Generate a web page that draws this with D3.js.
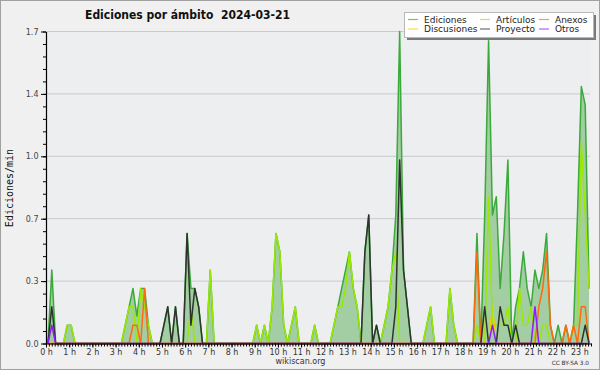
<!DOCTYPE html>
<html>
<head>
<meta charset="utf-8">
<script src="https://cdn.jsdelivr.net/npm/d3@7/dist/d3.min.js"></script>
<style>
	body { margin: 0; background: #f0f0f0; }
	svg { display: block; font-family: "DejaVu Sans", sans-serif; }
</style>
</head>
<body>
<div id="chart"></div>
<script>
// edits per minute, one value per 10 min slot (xx:05, xx:15 ...), one row per hour
var ediciones = [
	0, 0.4, 0, 0, 0, 0.1,
	0.1, 0, 0, 0, 0, 0,
	0, 0, 0, 0, 0, 0,
	0, 0, 0.1, 0.2, 0.3, 0.15,
	0.3, 0.3, 0.1, 0, 0, 0,
	0.1, 0.2, 0, 0.2, 0, 0,
	0.6, 0.3, 0.3, 0.2, 0, 0,
	0.4, 0, 0, 0, 0, 0,
	0, 0, 0, 0, 0, 0,
	0.1, 0, 0.1, 0, 0.2, 0.6,
	0.5, 0.1, 0, 0.1, 0.2, 0,
	0, 0, 0, 0.1, 0, 0,
	0, 0, 0.1, 0.2, 0.3, 0.4,
	0.5, 0.3, 0.2, 0, 0.5, 0.7,
	0, 0.1, 0, 0.1, 0.2, 0.4,
	0.7, 1.7, 0.4, 0.2, 0, 0,
	0, 0, 0.1, 0.2, 0, 0,
	0, 0, 0.3, 0.1, 0, 0,
	0, 0, 0, 0.6, 0, 0.7,
	1.65, 0.7, 0.8, 0.3, 0.6, 1.0,
	0, 0.2, 0.3, 0.5, 0.3, 0.2,
	0.4, 0.3, 0.4, 0.6, 0.1, 0,
	0.1, 0, 0.1, 0, 0.1, 0.7,
	1.4, 1.3, 0.3
];

var articulos = [
	0, 0.1, 0, 0, 0, 0.1,
	0.1, 0, 0, 0, 0, 0,
	0, 0, 0, 0, 0, 0,
	0, 0, 0.1, 0.2, 0.2, 0,
	0.3, 0.2, 0.1, 0, 0, 0,
	0, 0, 0, 0, 0, 0,
	0, 0.2, 0, 0, 0, 0,
	0.4, 0, 0, 0, 0, 0,
	0, 0, 0, 0, 0, 0,
	0.1, 0, 0.1, 0, 0.2, 0.6,
	0.5, 0.1, 0, 0.1, 0.2, 0,
	0, 0, 0, 0.1, 0, 0,
	0, 0, 0.1, 0.2, 0.2, 0.3,
	0.5, 0.3, 0.2, 0, 0, 0,
	0, 0, 0, 0.1, 0.2, 0.4,
	0.5, 0, 0, 0, 0, 0,
	0, 0, 0.1, 0.2, 0, 0,
	0, 0, 0.3, 0.1, 0, 0,
	0, 0, 0, 0.1, 0, 0,
	0.8, 0.1, 0.1, 0.1, 0.1, 0.2,
	0, 0, 0.3, 0.1, 0.1, 0.2,
	0, 0, 0.1, 0.1, 0, 0,
	0, 0, 0, 0, 0.1, 0.1,
	1.1, 0.7, 0.3
];

var anexos = [
	0, 0, 0, 0, 0, 0,
	0, 0, 0, 0, 0, 0,
	0, 0, 0, 0, 0, 0,
	0, 0, 0, 0, 0.1, 0.1,
	0, 0.3, 0, 0, 0, 0,
	0, 0, 0, 0, 0, 0,
	0, 0, 0, 0, 0, 0,
	0, 0, 0, 0, 0, 0,
	0, 0, 0, 0, 0, 0,
	0, 0, 0, 0, 0, 0,
	0, 0, 0, 0, 0, 0,
	0, 0, 0, 0, 0, 0,
	0, 0, 0, 0, 0, 0,
	0, 0, 0, 0, 0, 0,
	0, 0, 0, 0, 0, 0,
	0, 0, 0, 0, 0, 0,
	0, 0, 0, 0, 0, 0,
	0, 0, 0, 0, 0, 0,
	0, 0, 0, 0.5, 0, 0,
	0, 0, 0, 0, 0, 0,
	0, 0, 0, 0, 0, 0,
	0, 0.2, 0.3, 0.5, 0.1, 0,
	0, 0, 0.1, 0, 0.1, 0,
	0.2, 0.2, 0
];

var discusiones = [
	0, 0, 0, 0, 0, 0,
	0, 0, 0, 0, 0, 0,
	0, 0, 0, 0, 0, 0,
	0, 0, 0, 0, 0, 0,
	0, 0, 0, 0, 0, 0,
	0, 0, 0, 0, 0, 0,
	0, 0, 0, 0, 0, 0,
	0, 0, 0, 0, 0, 0,
	0, 0, 0, 0, 0, 0,
	0, 0, 0, 0, 0, 0,
	0, 0, 0, 0, 0, 0,
	0, 0, 0, 0, 0, 0,
	0, 0, 0, 0, 0, 0,
	0, 0, 0, 0, 0, 0,
	0, 0, 0, 0, 0, 0,
	0, 0, 0, 0, 0, 0,
	0, 0, 0, 0, 0, 0,
	0, 0, 0, 0, 0, 0,
	0, 0, 0, 0, 0, 0,
	0, 0.2, 0, 0, 0, 0,
	0, 0, 0, 0, 0, 0,
	0, 0, 0, 0, 0, 0,
	0, 0, 0, 0, 0, 0,
	0, 0, 0
];

var proyecto = [
	0, 0.2, 0, 0, 0, 0,
	0, 0, 0, 0, 0, 0,
	0, 0, 0, 0, 0, 0,
	0, 0, 0, 0, 0, 0,
	0, 0, 0, 0, 0, 0,
	0.1, 0.2, 0, 0.2, 0, 0,
	0.6, 0.1, 0.3, 0.2, 0, 0,
	0, 0, 0, 0, 0, 0,
	0, 0, 0, 0, 0, 0,
	0, 0, 0, 0, 0, 0,
	0, 0, 0, 0, 0, 0,
	0, 0, 0, 0, 0, 0,
	0, 0, 0, 0, 0, 0,
	0, 0, 0, 0, 0.5, 0.7,
	0, 0.1, 0, 0, 0, 0,
	0.2, 1.0, 0.4, 0.2, 0, 0,
	0, 0, 0, 0, 0, 0,
	0, 0, 0, 0, 0, 0,
	0, 0, 0, 0, 0, 0.2,
	0, 0, 0, 0.2, 0.1, 0.1,
	0, 0.1, 0, 0, 0, 0,
	0, 0, 0, 0, 0, 0,
	0, 0, 0, 0, 0, 0,
	0, 0.1, 0
];

var otros = [
	0, 0.1, 0, 0, 0, 0,
	0, 0, 0, 0, 0, 0,
	0, 0, 0, 0, 0, 0,
	0, 0, 0, 0, 0, 0,
	0, 0, 0, 0, 0, 0,
	0, 0, 0, 0, 0, 0,
	0, 0, 0, 0, 0, 0,
	0, 0, 0, 0, 0, 0,
	0, 0, 0, 0, 0, 0,
	0, 0, 0, 0, 0, 0,
	0, 0, 0, 0, 0, 0,
	0, 0, 0, 0, 0, 0,
	0, 0, 0, 0, 0, 0,
	0, 0, 0, 0, 0, 0,
	0, 0, 0, 0, 0, 0,
	0, 0, 0, 0, 0, 0,
	0, 0, 0, 0, 0, 0,
	0, 0, 0, 0, 0, 0,
	0, 0, 0, 0, 0, 0,
	0, 0.1, 0, 0, 0, 0,
	0, 0, 0, 0, 0, 0,
	0.2, 0, 0, 0, 0, 0,
	0, 0, 0, 0, 0, 0,
	0, 0, 0
];

var hourTicks = [0, 1, 2, 3, 4, 5, 6, 7, 8, 9, 10, 11, 12, 13, 14, 15, 16, 17, 18, 19, 20, 21, 22, 23];
var yMax = 1.7;
var yTickLabels = ["0.0", "0.3", "0.7", "1.0", "1.4", "1.7"];

var seriesNames = ["Ediciones", "Artículos", "Anexos", "Discusiones", "Proyecto", "Otros"];
var seriesColors = ["#3aaa3a", "#9be800", "#ff6a10", "#ffc800", "#2e332e", "#8a1cff"];

var dimensions = {
	width: 600,
	height: 370,
	margin: { top: 31.5, right: 9, bottom: 26.5, left: 46 }
};
var plotBottom = dimensions.height - dimensions.margin.bottom;
var plotRight = dimensions.width - dimensions.margin.right;

var svg = d3.select("#chart")
	.append("svg")
	.attr("width", dimensions.width)
	.attr("height", dimensions.height);

// outer frame
svg.append("rect")
	.attr("x", 0.5).attr("y", 0.5)
	.attr("width", dimensions.width - 1).attr("height", dimensions.height - 1)
	.attr("fill", "#f0f0f0")
	.attr("stroke", "#a0a0a0");

// slot i is centred at i*10+5 minutes
var slotHours = ediciones.map((d, i) => (i * 10 + 5) / 60);

var xScale = d3.scaleLinear()
	.domain([0, 23.5])
	.range([dimensions.margin.left, plotRight]);

var yScale = d3.scaleLinear()
	.domain([0, yMax])
	.range([plotBottom, dimensions.margin.top]);

var yTicks = yTickLabels.map((d, i) => i * yMax / 5);
var yMinor = d3.range(0, 26).map(i => i * yMax / 25);
var xMinor = d3.range(0, 23.5 * 8 + 1).map(i => i / 8);

// plot background
svg.append("rect")
	.attr("x", xScale(0))
	.attr("y", yScale(yMax))
	.attr("width", xScale(23.5) - xScale(0) - 1)
	.attr("height", yScale(0) - yScale(yMax))
	.attr("fill", "#edeef0");

// grid
svg.append("g")
	.selectAll("line")
	.data(yTicks.slice(1))
	.enter()
	.append("line")
	.attr("x1", xScale(0))
	.attr("x2", xScale(23.5) - 1)
	.attr("y1", d => yScale(d))
	.attr("y2", d => yScale(d))
	.attr("stroke", "#c9cacc")
	.attr("stroke-width", 1);

var allSeries = [ediciones, articulos, anexos, discusiones, proyecto, otros];

var area = d3.area()
	.x((d, i) => xScale(slotHours[i]))
	.y0(yScale(0))
	.y1(d => yScale(d));

var line = d3.line()
	.x((d, i) => xScale(slotHours[i]))
	.y(d => yScale(d));

svg.append("path")
	.attr("d", area(ediciones))
	.attr("fill", "#9ccb9c")
	.attr("fill-opacity", 0.92);

// draw order: totals first, then the smaller scopes on top
var drawOrder = [0, 3, 1, 2, 4, 5];
drawOrder.forEach(function(k) {
	svg.append("path")
		.attr("d", line(allSeries[k]))
		.attr("fill", "none")
		.attr("stroke", seriesColors[k])
		.attr("stroke-width", 1.5)
		.attr("stroke-linejoin", "round");
});

// axes
var yAxis = svg.append("g")
	.attr("transform", `translate(${xScale(0)},0)`)
	.call(d3.axisLeft(yScale).tickValues(yTicks).tickFormat((d, i) => yTickLabels[i]).tickSize(5).tickSizeOuter(0));
svg.append("g")
	.attr("transform", `translate(${xScale(0)},0)`)
	.call(d3.axisLeft(yScale).tickValues(yMinor).tickFormat("").tickSize(3).tickSizeOuter(0))
	.select(".domain").remove();

yAxis.selectAll("text")
	.attr("font-size", "8px")
	.attr("fill", "#444")
	.attr("font-family", "DejaVu Sans, sans-serif")
	.attr("dx", "0.5");

var xAxis = svg.append("g")
	.attr("transform", `translate(0,${plotBottom})`)
	.call(d3.axisBottom(xScale).tickValues(hourTicks).tickFormat(d => d + " h").tickSize(4).tickSizeOuter(0));
svg.append("g")
	.attr("transform", `translate(0,${plotBottom})`)
	.call(d3.axisBottom(xScale).tickValues(xMinor).tickFormat("").tickSize(3).tickSizeOuter(0))
	.select(".domain").remove();

xAxis.selectAll("text")
	.attr("font-size", "8px")
	.attr("fill", "#333")
	.attr("font-family", "DejaVu Sans, sans-serif")
	.attr("dy", "0.55em");

svg.selectAll(".domain").attr("stroke", "#000").attr("stroke-width", 1.2);
svg.selectAll(".tick line").attr("stroke", "#000");

// titles
svg.append("text")
	.attr("x", 85)
	.attr("y", 18.5)
	.attr("font-size", "12.5px")
	.attr("font-weight", "bold")
	.attr("fill", "#111")
	.attr("textLength", 205)
	.attr("lengthAdjust", "spacingAndGlyphs")
	.style("white-space", "pre")
	.text("Ediciones por ámbito  2024-03-21");

svg.append("text")
	.attr("transform", "translate(13,188) rotate(-90)")
	.attr("text-anchor", "middle")
	.attr("font-family", "DejaVu Sans Mono, monospace")
	.attr("font-size", "10px")
	.attr("fill", "#111")
	.text("Ediciones/min");

svg.append("text")
	.attr("x", 300.5)
	.attr("y", 364)
	.attr("text-anchor", "middle")
	.attr("font-size", "8px")
	.attr("fill", "#333")
	.text("wikiscan.org");

svg.append("text")
	.attr("x", 589)
	.attr("y", 365)
	.attr("text-anchor", "end")
	.attr("font-size", "5.8px")
	.attr("fill", "#333")
	.text("CC BY-SA 3.0");

// legend
var legend = svg.append("g").attr("transform", "translate(404,12)");
legend.append("rect")
	.attr("x", 3).attr("y", 3)
	.attr("width", 189).attr("height", 25)
	.attr("fill", "#7a7a7a");
legend.append("rect")
	.attr("x", 0.5).attr("y", 0.5)
	.attr("width", 189).attr("height", 25)
	.attr("fill", "#fff")
	.attr("stroke", "#b8b8b8");

var legendCols = [4, 76, 135];
var legendRows = [7.5, 17];
var legendSlot = [0, 3, 1, 4, 2, 5]; // column-major: Ediciones/Discusiones, Artículos/Proyecto, Anexos/Otros

var items = legend.selectAll("g.item")
	.data(seriesNames)
	.enter()
	.append("g")
	.attr("class", "item")
	.attr("transform", function(d, i) {
		var slot = legendSlot.indexOf(i);
		return `translate(${legendCols[Math.floor(slot / 2)]},${legendRows[slot % 2]})`;
	});

items.append("line")
	.attr("x1", 0).attr("x2", 10)
	.attr("y1", 0).attr("y2", 0)
	.attr("stroke", (d, i) => seriesColors[i])
	.attr("stroke-opacity", 0.7)
	.attr("stroke-width", 1.2);

items.append("text")
	.attr("x", 16)
	.attr("y", 3.3)
	.attr("font-size", "9px")
	.attr("fill", "#222")
	.text(d => d);
</script>
</body>
</html>
